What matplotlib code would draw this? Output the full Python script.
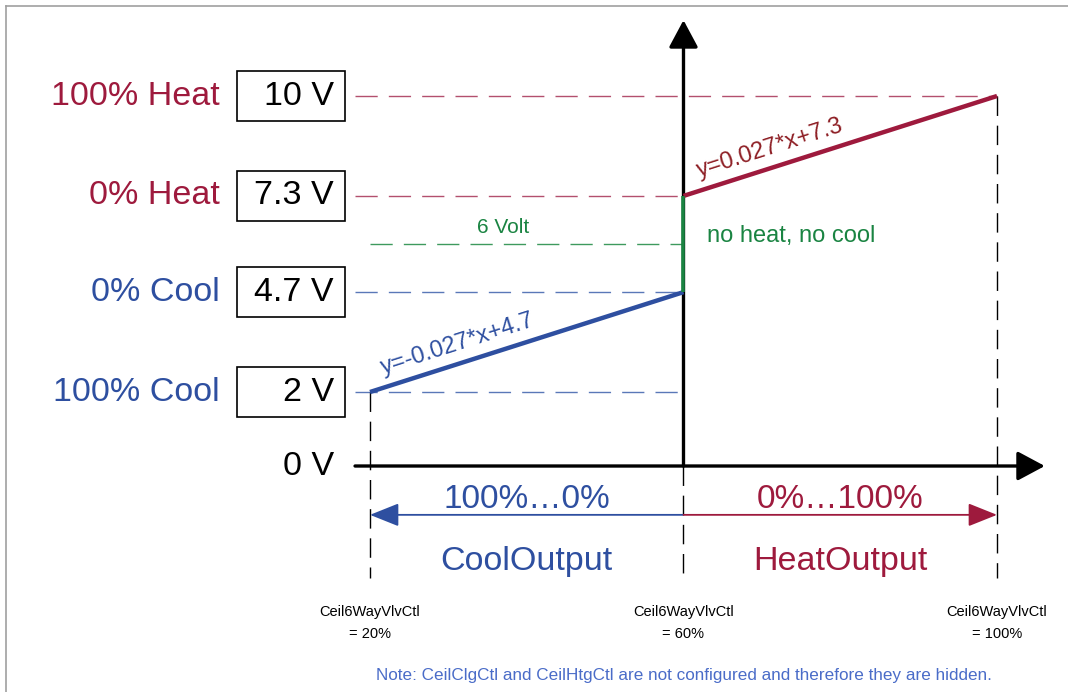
import matplotlib.pyplot as plt
from matplotlib.patches import Rectangle
from matplotlib.lines import Line2D

plt.rcParams["font.family"] = ["Liberation Sans", "DejaVu Sans"]

# valve control setpoints (%) and output voltages
valvePercents = [20, 60, 100]
valveLabels = ["Ceil6WayVlvCtl\n= 20%", "Ceil6WayVlvCtl\n= 60%", "Ceil6WayVlvCtl\n= 100%"]

coolPercents = [20, 60]
coolVolts = [2, 4.7]
heatPercents = [60, 100]
heatVolts = [7.3, 10]
deadbandVolts = [4.7, 7.3]
midVolt = 6

levelVolts = [10, 7.3, 4.7, 2]
levelBoxText = ["10 V", "7.3 V", "4.7 V", "2 V"]
levelNames = ["100% Heat", "0% Heat", "0% Cool", "100% Cool"]

heatColor = "#9E1A3D"
heatDash = "#B3506E"
heatEqColor = "#8E1F25"
coolColor = "#2E4FA0"
coolDash = "#5A78B8"
greenColor = "#1A8442"
noteColor = "#4A6CC8"

fig = plt.figure(figsize=(10.68, 6.92), dpi=100)
ax = fig.add_axes([0, 0, 1, 1])
ax.set_xlim(-27.21, 109.06)
ax.set_ylim(-6.108, 12.595)
ax.axis("off")

# outer frame
fig.add_artist(Line2D([6 / 1068, 6 / 1068], [0, 1 - 6 / 692], color="#A0A0A0", lw=1.2))
fig.add_artist(Line2D([6 / 1068, 1], [1 - 6 / 692, 1 - 6 / 692], color="#A0A0A0", lw=1.2))

dash = (0, (16, 8))
axStart = 18.09
xMin, xMid, xMax = valvePercents

# horizontal reference lines
levelColors = [heatDash, heatDash, coolDash, coolDash]
levelEnds = [xMax, xMid, xMid, xMid]
for v, c, e in zip(levelVolts, levelColors, levelEnds):
    ax.plot([axStart, e], [v, v], color=c, lw=1.0, linestyle=dash)
ax.plot([xMin, xMid], [midVolt, midVolt], color="#3E9A5E", lw=1.0, linestyle=dash)

# vertical drop lines
dropTops = [coolVolts[0], 0, heatVolts[1]]
for p, top in zip(valvePercents, dropTops):
    ax.plot([p, p], [top, -3.02], color="black", lw=1.0, linestyle=(0, (14, 7)))

# axes with arrowheads
arrowStyle = "-|>,head_length=1.4,head_width=0.75"
ax.annotate("", xy=(xMid, 12.05), xytext=(xMid, 0),
            arrowprops=dict(arrowstyle=arrowStyle, mutation_scale=12, lw=2.4,
                            color="black", shrinkA=0, shrinkB=0))
ax.annotate("", xy=(106.1, 0), xytext=(axStart, 0),
            arrowprops=dict(arrowstyle=arrowStyle, mutation_scale=12, lw=2.4,
                            color="black", shrinkA=0, shrinkB=0))

# characteristic lines
ax.plot(coolPercents, coolVolts, color=coolColor, lw=3.2, solid_capstyle="butt", zorder=5)
ax.plot(heatPercents, heatVolts, color=heatColor, lw=3.2, solid_capstyle="butt", zorder=5)
ax.plot([xMid, xMid], deadbandVolts, color=greenColor, lw=2.6, solid_capstyle="butt", zorder=6)

ax.text(71.0, 8.58, "y=0.027*x+7.3", color=heatEqColor, fontsize=17,
        rotation=17.7, ha="center", va="center", rotation_mode="anchor")
ax.text(31.2, 3.30, "y=-0.027*x+4.7", color=coolColor, fontsize=17,
        rotation=17.7, ha="center", va="center", rotation_mode="anchor")
ax.text(37.0, midVolt + 0.45, "6 Volt", color=greenColor, fontsize=15,
        ha="center", va="center")
ax.text(63.0, midVolt + 0.22, "no heat, no cool", color=greenColor, fontsize=17,
        ha="left", va="center")

# voltage boxes and level names
nameColors = [heatColor, heatColor, coolColor, coolColor]
for v, t, n, c in zip(levelVolts, levelBoxText, levelNames, nameColors):
    ax.add_patch(Rectangle((3.03, v - 0.675), 13.78, 1.35, fill=False,
                           edgecolor="black", lw=1.2))
    ax.text(15.4, v, t, fontsize=24.5, ha="right", va="center", color="black")
    ax.text(0.86, v, n, fontsize=24.5, ha="right", va="center", color=c)
ax.text(15.4, 0, "0 V", fontsize=24.5, ha="right", va="center", color="black")

# output range arrows
rangeY = -1.32
ax.annotate("", xy=(xMin, rangeY), xytext=(xMid, rangeY),
            arrowprops=dict(arrowstyle="-|>,head_length=1.5,head_width=0.6",
                            mutation_scale=12, lw=1.3, color=coolColor,
                            shrinkA=0, shrinkB=0))
ax.annotate("", xy=(xMax, rangeY), xytext=(xMid, rangeY),
            arrowprops=dict(arrowstyle="-|>,head_length=1.5,head_width=0.6",
                            mutation_scale=12, lw=1.3, color=heatColor,
                            shrinkA=0, shrinkB=0))
ax.text((xMin + xMid) / 2, -0.90, "100%\u20260%", color=coolColor, fontsize=24,
        ha="center", va="center")
ax.text((xMid + xMax) / 2, -0.90, "0%\u2026100%", color=heatColor, fontsize=24,
        ha="center", va="center")
ax.text((xMin + xMid) / 2, -2.58, "CoolOutput", color=coolColor, fontsize=24.5,
        ha="center", va="center")
ax.text((xMid + xMax) / 2, -2.58, "HeatOutput", color=heatColor, fontsize=24.5,
        ha="center", va="center")

# valve setpoint labels
for p, lbl in zip(valvePercents, valveLabels):
    ax.text(p, -4.24, lbl, fontsize=10.5, ha="center", va="center",
            linespacing=1.7, color="black")

ax.text(xMid, -5.65,
        "Note: CeilClgCtl and CeilHtgCtl are not configured and therefore they are hidden.",
        color=noteColor, fontsize=12.3, ha="center", va="center")

fig.savefig("out.png", dpi=100)
